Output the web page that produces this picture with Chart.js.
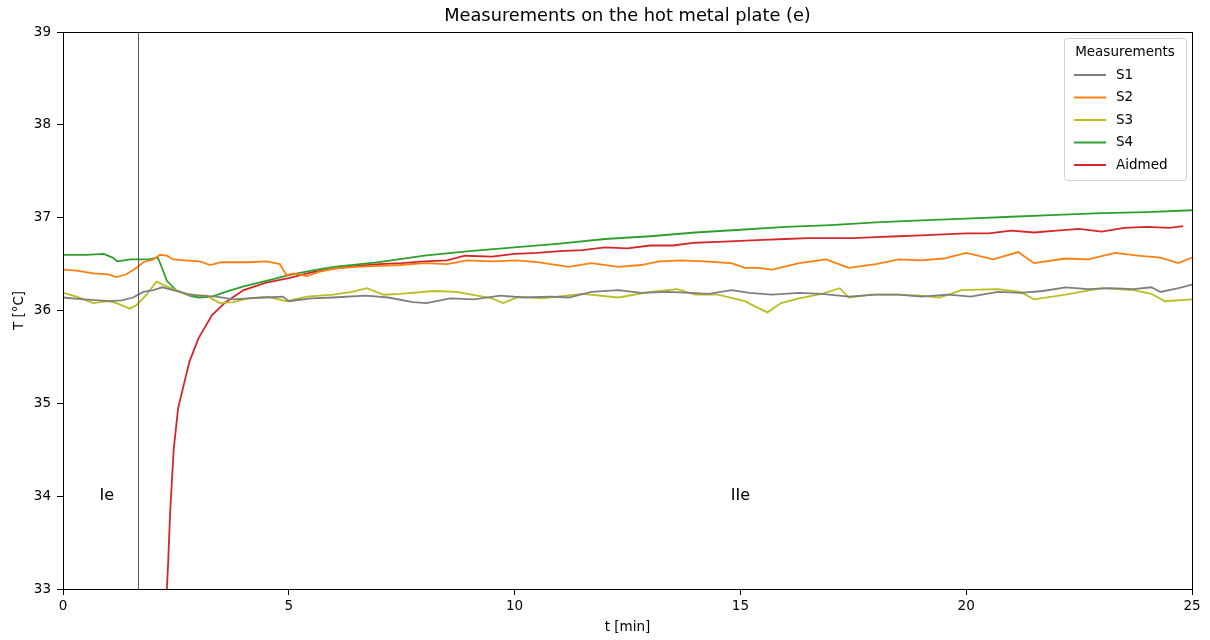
<!DOCTYPE html>
<html>
<head>
<meta charset="utf-8">
<script src="https://cdn.jsdelivr.net/npm/chart.js@4.4.1/dist/chart.umd.min.js"></script>
<style>
html,body{margin:0;padding:0;background:#fff;}
#wrap{width:1210px;height:640px;}
</style>
</head>
<body>
<div id="wrap"><canvas id="c"></canvas></div>
<script>
// S1
const t1=[0,0.47,1.04,1.3,1.55,1.78,2.0,2.2,2.44,2.74,3.0,3.4,3.77,4.1,4.5,4.87,5.0,5.5,5.98,6.7,7.2,7.75,8.05,8.57,9.1,9.68,10.2,10.8,11.2,11.7,12.3,12.8,13.4,13.9,14.3,14.8,15.2,15.7,16.3,16.8,17.4,18,18.5,19,19.6,20.1,20.7,21.2,21.7,22.2,22.7,23.2,23.7,24.1,24.3,24.7,25];
const v1=[36.14,36.12,36.10,36.11,36.14,36.20,36.22,36.25,36.22,36.18,36.16,36.15,36.12,36.13,36.14,36.15,36.10,36.13,36.14,36.16,36.14,36.09,36.08,36.13,36.12,36.16,36.14,36.15,36.14,36.20,36.22,36.19,36.20,36.19,36.18,36.22,36.19,36.17,36.19,36.18,36.15,36.17,36.17,36.15,36.17,36.15,36.20,36.19,36.21,36.25,36.23,36.24,36.23,36.25,36.20,36.24,36.28];
// S2
const t2=[0,0.3,0.67,1.0,1.19,1.4,1.63,1.78,2.0,2.15,2.3,2.44,2.7,3.03,3.26,3.5,3.77,4.1,4.51,4.8,4.95,5.1,5.4,5.7,6,6.5,7,7.46,8,8.5,8.95,9.5,10.05,10.5,11.2,11.7,12.3,12.8,13.2,13.7,14.2,14.8,15.1,15.4,15.7,16.3,16.9,17.4,18,18.5,19,19.5,20,20.6,21.15,21.5,22.2,22.7,23.3,23.8,24.3,24.7,25];
const v2=[36.44,36.43,36.40,36.39,36.36,36.39,36.46,36.52,36.55,36.60,36.59,36.55,36.54,36.53,36.49,36.52,36.52,36.52,36.53,36.50,36.38,36.40,36.37,36.42,36.45,36.47,36.48,36.49,36.51,36.50,36.54,36.53,36.54,36.52,36.47,36.51,36.47,36.49,36.53,36.54,36.53,36.51,36.46,36.46,36.44,36.51,36.55,36.46,36.50,36.55,36.54,36.56,36.62,36.55,36.63,36.51,36.56,36.55,36.62,36.59,36.57,36.51,36.57];
// S3
const t3=[0,0.3,0.67,1.0,1.19,1.48,1.63,1.85,2.07,2.3,2.5,2.74,3.18,3.47,3.77,4.1,4.51,4.95,5.4,5.98,6.4,6.73,7.1,7.46,8.2,8.72,9.5,9.75,10.1,10.6,11.5,12.3,13.0,13.6,14.0,14.5,15.1,15.3,15.6,15.9,16.3,16.8,17.2,17.4,17.9,18.5,19.0,19.4,19.9,20.7,21.2,21.5,22.2,23.0,23.7,24.1,24.4,25];
const v3=[36.19,36.15,36.08,36.10,36.08,36.02,36.06,36.17,36.31,36.26,36.22,36.17,36.16,36.08,36.09,36.13,36.15,36.10,36.15,36.17,36.20,36.24,36.17,36.18,36.21,36.20,36.13,36.08,36.15,36.13,36.18,36.14,36.20,36.23,36.17,36.17,36.10,36.05,35.98,36.08,36.13,36.18,36.24,36.14,36.17,36.17,36.16,36.14,36.22,36.23,36.20,36.12,36.17,36.24,36.22,36.18,36.10,36.12];
// S4
const t4=[0,0.5,0.9,1.1,1.2,1.5,1.9,2.1,2.2,2.3,2.5,2.8,3.0,3.3,3.6,4.0,4.5,5.0,5.5,6,7,8,9,10,11,12,13,14,15,16,17,18,19,20,21,22,23,24,25];
const v4=[36.60,36.60,36.61,36.57,36.53,36.55,36.55,36.57,36.45,36.32,36.22,36.16,36.14,36.15,36.20,36.26,36.32,36.38,36.43,36.47,36.52,36.59,36.64,36.68,36.72,36.77,36.80,36.84,36.87,36.90,36.92,36.95,36.97,36.99,37.01,37.03,37.05,37.06,37.08];
// Aidmed
const tA=[2.30,2.33,2.37,2.45,2.55,2.65,2.8,3.0,3.3,3.6,4.0,4.5,5.0,5.5,6,6.5,7,7.5,8,8.5,8.9,9.5,10,10.5,11,11.5,12,12.5,13,13.5,14,14.5,15,15.5,16,16.5,17,17.5,18,18.5,19,19.5,20,20.5,21,21.5,22,22.5,23,23.5,24,24.5,24.8];
const vA=[33.0,33.3,33.8,34.5,34.95,35.15,35.45,35.7,35.95,36.09,36.22,36.30,36.35,36.41,36.45,36.48,36.50,36.51,36.53,36.54,36.59,36.58,36.61,36.62,36.64,36.65,36.68,36.67,36.70,36.70,36.73,36.74,36.75,36.76,36.77,36.78,36.78,36.78,36.79,36.80,36.81,36.82,36.83,36.83,36.86,36.84,36.86,36.88,36.85,36.89,36.90,36.89,36.91];

const seriesNames=['S1','S2','S3','S4','Aidmed'];
const seriesColors=['#7f7f7f','#ff7f0e','#bcbd22','#2ca02c','#d62728'];
const seriesT=[t1,t2,t3,t4,tA];
const seriesV=[v1,v2,v3,v4,vA];
const phaseLine=1.66;
const phaseLabels=[{t:0.97,v:34.0,text:'Ie'},{t:15.0,v:34.0,text:'IIe'}];
const chartTitle='Measurements on the hot metal plate (e)';

const FONT='"DejaVu Sans", sans-serif';

const extras={
id:'extras',
afterDatasetsDraw(chart){
const {ctx,chartArea:a,scales:{x,y}}=chart;
ctx.save();
// title centred over the plot area
ctx.fillStyle='#000';ctx.font='17.8px '+FONT;ctx.textAlign='center';ctx.textBaseline='middle';
ctx.fillText(chartTitle,(a.left+a.right)/2,16);
// phase divider
const px=Math.round(x.getPixelForValue(phaseLine))+0.5;
ctx.strokeStyle='#555';ctx.lineWidth=1;
ctx.beginPath();ctx.moveTo(px,a.top);ctx.lineTo(px,a.bottom);ctx.stroke();
ctx.font='16px '+FONT;
phaseLabels.forEach(p=>ctx.fillText(p.text,x.getPixelForValue(p.t),y.getPixelForValue(p.v)));
// frame
ctx.strokeStyle='#000';ctx.lineWidth=1;
ctx.strokeRect(Math.round(a.left)+0.5,Math.round(a.top)+0.5,Math.round(a.right-a.left),Math.round(a.bottom-a.top));
// legend
const w=122,h=142,lx=a.right-6-w,ly=a.top+6;
ctx.fillStyle='rgba(255,255,255,0.8)';
ctx.strokeStyle='#d0d0d0';
ctx.beginPath();ctx.roundRect(lx+0.5,ly+0.5,w,h,3);ctx.fill();ctx.stroke();
ctx.fillStyle='#000';ctx.font='13.5px '+FONT;ctx.textAlign='center';
ctx.fillText('Measurements',lx+w/2,ly+14);
ctx.textAlign='left';
seriesNames.forEach((n,i)=>{
const yy=ly+37+i*22.5;
ctx.strokeStyle=seriesColors[i];ctx.lineWidth=2;
ctx.beginPath();ctx.moveTo(lx+10,yy);ctx.lineTo(lx+42,yy);ctx.stroke();
ctx.fillStyle='#000';
ctx.fillText(n,lx+52,yy);
});
ctx.restore();
}
};

new Chart(document.getElementById('c'),{
type:'line',
data:{datasets:seriesNames.map((n,i)=>({
label:n,
data:seriesT[i].map((t,k)=>({x:t,y:seriesV[i][k]})),
borderColor:seriesColors[i],
backgroundColor:seriesColors[i],
borderWidth:1.8,
pointRadius:0,
tension:0
}))},
options:{
responsive:true,maintainAspectRatio:false,animation:false,
layout:{padding:{left:0,right:18,top:32,bottom:0}},
plugins:{
legend:{display:false},
tooltip:{enabled:false},
title:{display:false}
},
scales:{
x:{type:'linear',min:0,max:25,
ticks:{stepSize:5,color:'#000',font:{family:FONT,size:13.5},padding:3,maxRotation:0},
grid:{drawOnChartArea:false,drawTicks:true,tickLength:6,color:'#000'},
border:{display:true,color:'#000'},
title:{display:true,text:'t [min]',color:'#000',font:{family:FONT,size:13.5},padding:{top:2,bottom:4}},
afterFit(s){s.height=51;}
},
y:{type:'linear',min:33,max:39,
ticks:{stepSize:1,color:'#000',font:{family:FONT,size:13.5},padding:6},
grid:{drawOnChartArea:false,drawTicks:true,tickLength:6,color:'#000'},
border:{display:true,color:'#000'},
title:{display:true,text:'T [°C]',color:'#000',font:{family:FONT,size:13.5},padding:{top:11,bottom:4}},
afterFit(s){s.width=63;}
}
}
},
plugins:[extras]
});
</script>
</body>
</html>
